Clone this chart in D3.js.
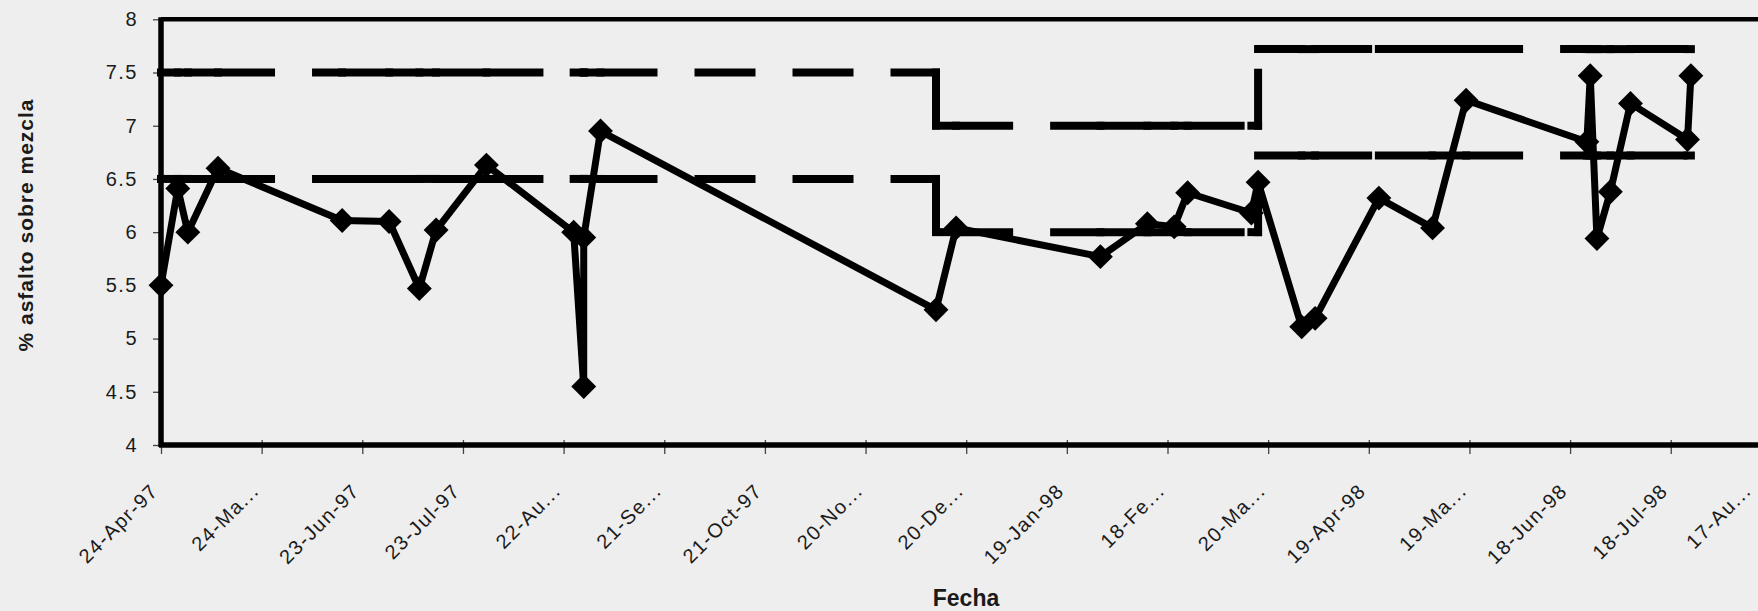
<!DOCTYPE html>
<html>
<head>
<meta charset="utf-8">
<script src="https://cdn.jsdelivr.net/npm/d3@7"></script>
<style>
  html, body { margin: 0; padding: 0; background: #eeeeee; }
  svg { display: block; }
  text { font-family: "Liberation Sans", Arial, sans-serif; fill: #1a1a1a; }
</style>
</head>
<body>
<svg id="chart" width="1758" height="611"></svg>
<script>
// ---------- DATA ----------
const sampleDates = [
  "1997-04-24","1997-04-29","1997-05-02","1997-05-11","1997-06-17","1997-07-01",
  "1997-07-10","1997-07-15","1997-07-30","1997-08-25","1997-08-28","1997-08-28",
  "1997-09-02","1997-12-11","1997-12-17","1998-01-29","1998-02-12","1998-02-20",
  "1998-02-24","1998-03-15","1998-03-17","1998-03-30","1998-04-03","1998-04-22",
  "1998-05-08","1998-05-18","1998-06-23","1998-06-24","1998-06-26","1998-06-30",
  "1998-07-06","1998-07-23","1998-07-24"
];
const asphaltPct = [
  5.50, 6.41, 6.00, 6.60, 6.11, 6.10,
  5.47, 6.02, 6.63, 6.00, 4.55, 5.95,
  6.95, 5.27, 6.04, 5.77, 6.08, 6.05,
  6.37, 6.18, 6.47, 5.11, 5.19, 6.32,
  6.04, 7.24, 6.85, 7.47, 5.94, 6.38,
  7.21, 6.87, 7.47
];
// specification limits (step lines), one vertex per sample plus the two steps
const limitDates = [
  "1997-04-24","1997-04-29","1997-05-02","1997-05-11","1997-06-17","1997-07-01",
  "1997-07-10","1997-07-15","1997-07-30","1997-08-25","1997-08-28","1997-08-28",
  "1997-09-02","1997-12-11","1997-12-11","1997-12-17","1998-01-29","1998-02-12",
  "1998-02-20","1998-02-24","1998-03-15","1998-03-17","1998-03-17","1998-03-30",
  "1998-04-03","1998-04-22","1998-05-08","1998-05-18","1998-06-23","1998-06-24",
  "1998-06-26","1998-06-30","1998-07-06","1998-07-23","1998-07-24"
];
const upperLimit = [
  7.5, 7.5, 7.5, 7.5, 7.5, 7.5,
  7.5, 7.5, 7.5, 7.5, 7.5, 7.5,
  7.5, 7.5, 7.0, 7.0, 7.0, 7.0,
  7.0, 7.0, 7.0, 7.0, 7.72, 7.72,
  7.72, 7.72, 7.72, 7.72, 7.72, 7.72,
  7.72, 7.72, 7.72, 7.72, 7.72
];
const lowerLimit = [
  6.5, 6.5, 6.5, 6.5, 6.5, 6.5,
  6.5, 6.5, 6.5, 6.5, 6.5, 6.5,
  6.5, 6.5, 6.0, 6.0, 6.0, 6.0,
  6.0, 6.0, 6.0, 6.0, 6.72, 6.72,
  6.72, 6.72, 6.72, 6.72, 6.72, 6.72,
  6.72, 6.72, 6.72, 6.72, 6.72
];
const yTicks = [4, 4.5, 5, 5.5, 6, 6.5, 7, 7.5, 8];
const yTickLabels = ["4","4.5","5","5.5","6","6.5","7","7.5","8"];
const xTickDates = [
  "1997-04-24","1997-05-24","1997-06-23","1997-07-23","1997-08-22","1997-09-21",
  "1997-10-21","1997-11-20","1997-12-20","1998-01-19","1998-02-18","1998-03-20",
  "1998-04-19","1998-05-19","1998-06-18","1998-07-18","1998-08-17"
];
const xTickLabels = [
  "24-Apr-97","24-Ma...","23-Jun-97","23-Jul-97","22-Au...","21-Se...",
  "21-Oct-97","20-No...","20-De...","19-Jan-98","18-Fe...","20-Ma...",
  "19-Apr-98","19-Ma...","18-Jun-98","18-Jul-98","17-Au..."
];
const xDomain = ["1997-04-24", "1998-08-17"];
const yDomain = [4, 8];
const yTitle = "% asfalto sobre mezcla";
const xTitle = "Fecha";

// ---------- CHART ----------
(function () {
const parse = d3.utcParse("%Y-%m-%d");
const svg = d3.select("#chart");
const W = 1758;
const pLeft = 161, pRight = 1771.4, pTop = 19.3, pBottom = 445;

const x = d3.scaleUtc().domain(xDomain.map(parse)).range([pLeft, pRight]);
const y = d3.scaleLinear().domain(yDomain).range([pBottom, pTop]);

svg.append("rect").attr("width", W).attr("height", 611).attr("fill", "#eeeeee");

// axes
const yAxis = d3.axisLeft(y).tickValues(yTicks)
  .tickFormat((d, i) => yTickLabels[i]).tickSize(8).tickPadding(15);
const gy = svg.append("g").attr("transform", `translate(${pLeft},0)`).call(yAxis);
gy.select(".domain").remove();
gy.selectAll(".tick line").attr("stroke", "#444").attr("stroke-width", 1.3);
gy.selectAll(".tick text")
  .attr("font-size", 20).attr("letter-spacing", "1.5px").attr("fill", "#1a1a1a")
  .style("font-family", "'Liberation Sans', Arial, sans-serif");

const xAxis = d3.axisBottom(x).tickValues(xTickDates.map(parse))
  .tickFormat((d, i) => xTickLabels[i]).tickSize(8);
const gx = svg.append("g").attr("transform", `translate(0,${pBottom})`).call(xAxis);
gx.select(".domain").remove();
gx.selectAll(".tick line").attr("y1", -5).attr("y2", 9)
  .attr("stroke", "#444").attr("stroke-width", 1.3);
gx.selectAll(".tick text")
  .attr("x", 0).attr("y", 0).attr("dy", 0)
  .attr("text-anchor", "end")
  .attr("transform", d => {
    const tx = x(d);
    const shift = Math.min(-2, (W - 6) - tx);   // keep the last label inside the picture
    return `translate(${shift},47) rotate(-45)`;
  })
  .attr("font-size", 20).attr("letter-spacing", "1.5px").attr("fill", "#1a1a1a")
  .style("font-family", "'Liberation Sans', Arial, sans-serif");

// plot frame
const frame = svg.append("g").attr("stroke", "#000").attr("fill", "none");
frame.append("line").attr("x1", pLeft).attr("x2", W).attr("y1", y(8)).attr("y2", y(8)).attr("stroke-width", 4.5);
frame.append("line").attr("x1", pLeft - 2).attr("x2", W).attr("y1", y(4)).attr("y2", y(4)).attr("stroke-width", 5.5);
frame.append("line").attr("x1", pLeft).attr("x2", pLeft).attr("y1", y(8) - 2).attr("y2", y(4) + 2).attr("stroke-width", 5.5);

// limit lines: dash pattern restarts at each vertex
function drawLimit(values) {
  const g = svg.append("g");
  for (let i = 0; i < limitDates.length - 1; i++) {
    g.append("line")
      .attr("x1", x(parse(limitDates[i]))).attr("y1", y(values[i]))
      .attr("x2", x(parse(limitDates[i + 1]))).attr("y2", y(values[i + 1]))
      .attr("stroke", "#000").attr("stroke-width", 8)
      .attr("stroke-linecap", "square")
      .attr("stroke-dasharray", "53,45");
  }
}
drawLimit(upperLimit);
drawLimit(lowerLimit);

// data series
const pts = sampleDates.map((d, i) => [x(parse(d)), y(asphaltPct[i])]);
svg.append("path")
  .attr("d", d3.line()(pts))
  .attr("fill", "none").attr("stroke", "#000")
  .attr("stroke-width", 7).attr("stroke-linejoin", "round");

const diamond = d3.symbol().type(d3.symbolSquare).size(310);
svg.append("g").selectAll("path").data(pts).join("path")
  .attr("d", diamond)
  .attr("transform", d => `translate(${d[0]},${d[1]}) rotate(45)`)
  .attr("fill", "#000");

// titles
svg.append("text")
  .attr("transform", `translate(33,225) rotate(-90)`)
  .attr("text-anchor", "middle")
  .attr("font-size", 21).attr("font-weight", "bold").attr("letter-spacing", "1px")
  .text(yTitle);
svg.append("text")
  .attr("x", 966).attr("y", 606)
  .attr("text-anchor", "middle")
  .attr("font-size", 23).attr("font-weight", "bold")
  .text(xTitle);
})();
</script>
</body>
</html>
